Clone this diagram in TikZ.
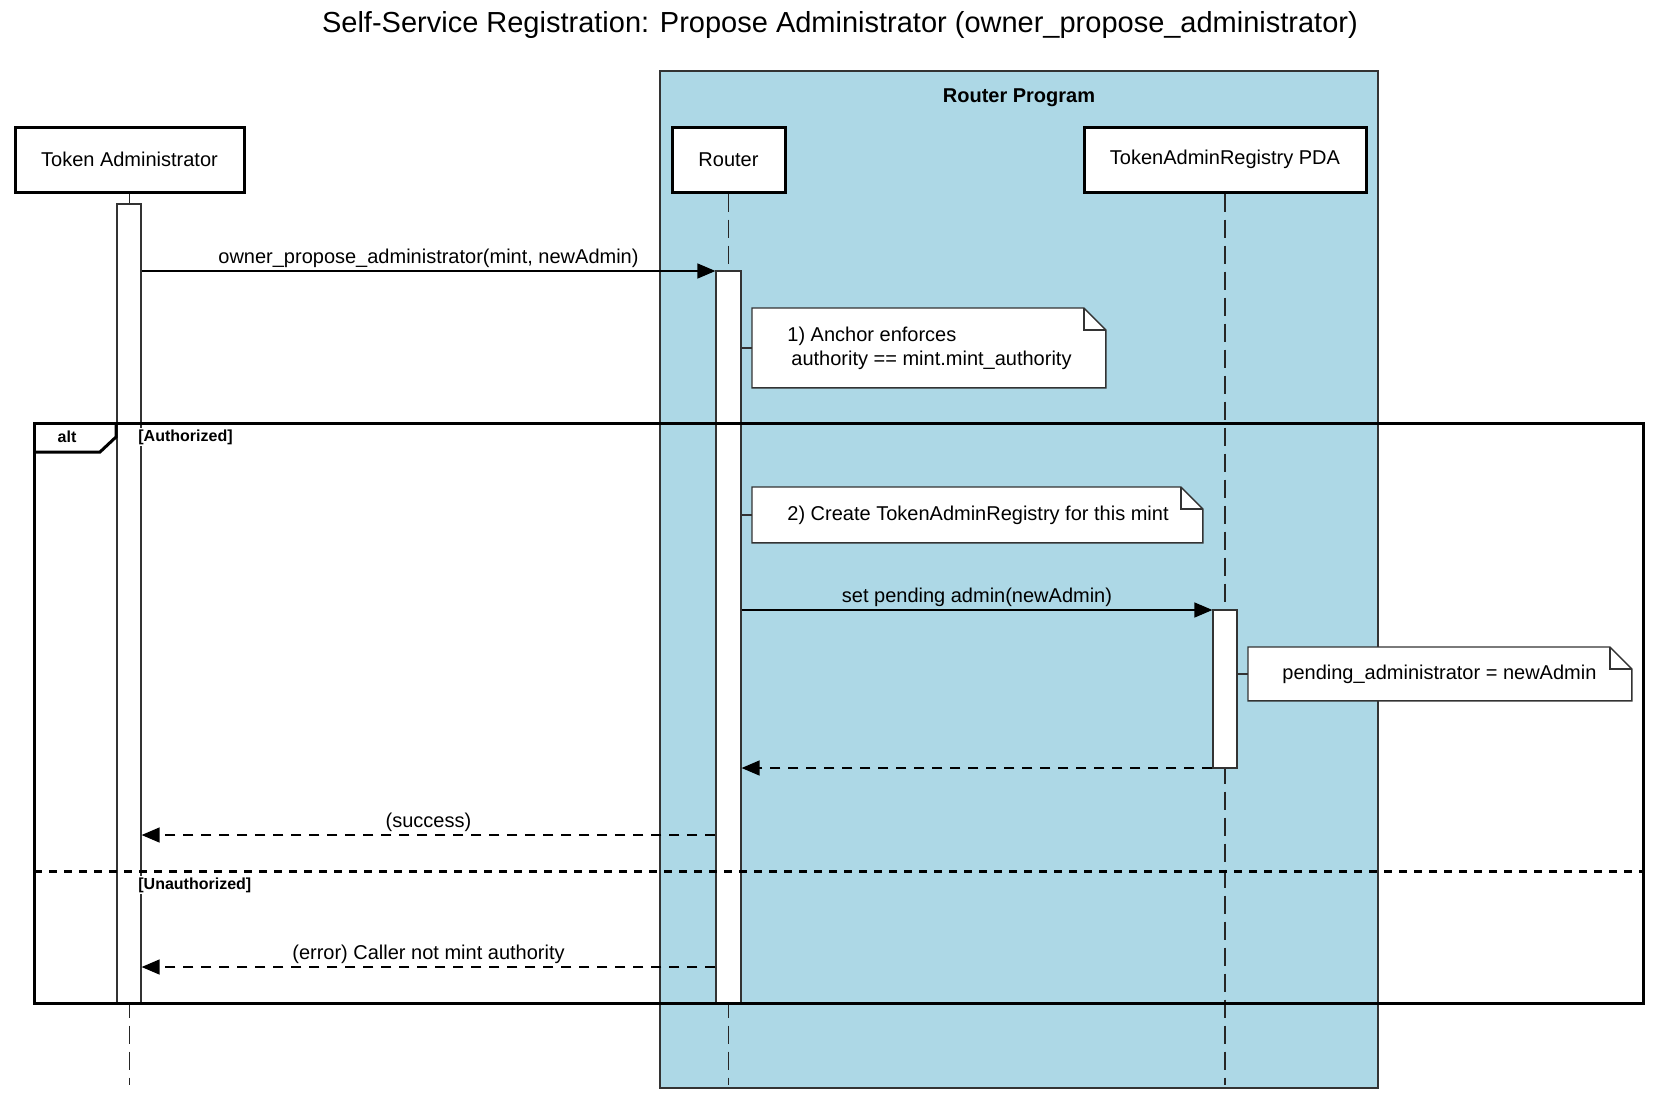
\documentclass[tikz,border=0pt]{standalone}
\usepackage{fontspec}
\setmainfont{Liberation Sans}
\usepackage{tikz}
\usetikzlibrary{arrows.meta,positioning,fit,backgrounds}
\usepackage{xcolor}
\definecolor{routerblue}{RGB}{173,216,230}

\begin{document}
\begin{tikzpicture}[
    x=0.5pt, y=-0.5pt,
    font=\fontsize{10pt}{12pt}\selectfont,
    >={Triangle[length=9pt,width=7.5pt]},
    % Define styles for the sequence diagram
    actor/.style={rectangle, draw=black, line width=1.5pt, fill=white, minimum height=32.5pt, inner sep=0pt},
    lifeline/.style={draw=black!85, line width=0.75pt, dash pattern=on 9pt off 4pt},
    activation/.style={rectangle, draw=black!80, line width=0.6pt, fill=white, inner sep=0pt},
    msg/.style={->, line width=0.7pt, draw=black},
    reply/.style={->, line width=0.7pt, draw=black, dash pattern=on 5pt off 4pt},
    msglabel/.style={above=1pt, inner sep=0.5pt},
    note/.style={rectangle, anchor=north west, inner sep=0pt},
    notetext/.style={align=left, inner sep=0pt},
    notebox/.style={draw=black!80, line width=0.7pt, fill=white},
    frame/.style={draw=black, line width=1.5pt},
    guard/.style={anchor=west, fill=white, inner sep=1pt, font=\fontsize{8pt}{9pt}\selectfont\bfseries},
    panel/.style={draw=black!80, line width=1pt, fill=routerblue}
]
\useasboundingbox (0,0) rectangle (1656,1104);

% ==========================================
% Title and Router Program panel
% ==========================================
\node[font=\fontsize{14.5pt}{17pt}\selectfont] (title) at (840,25) {Self-Service Registration: Propose Administrator (owner\_propose\_administrator)};

\begin{scope}[on background layer]
    \draw[panel] (660,71) rectangle (1378,1088);
\end{scope}
\node[font=\bfseries] (program) at (1019,98) {Router Program};

% ==========================================
% Participants and lifelines
% ==========================================
\node[actor, minimum width=114.5pt] (ta) at (129.5,159.5) {Token Administrator};
\node[actor, minimum width=56.5pt] (router) at (728.5,159.5) {Router};
\node[actor, minimum width=141pt] (tar) at (1225,159.5) {TokenAdminRegistry PDA};

\coordinate (bottom) at (0,1085);
\draw[lifeline] (ta.south) -- (ta.south |- bottom);
\draw[lifeline] (router.south) -- (router.south |- bottom);
\draw[lifeline] (tar.south) -- (tar.south |- bottom);

% Activation bars
\node[activation, fit={(117,204) (141,1003)}] (tabar) {};
\node[activation, fit={(716,271) (741,1003)}] (routerbar) {};
\node[activation, fit={(1213,610) (1237,768)}] (tarbar) {};

% ==========================================
% Messages
% ==========================================
\coordinate (m1) at (0,271);
\coordinate (m2) at (0,610);
\coordinate (m3) at (0,768);
\coordinate (m4) at (0,835);
\coordinate (m5) at (0,967);

\draw[msg] (tabar.east |- m1) -- node[msglabel] {owner\_propose\_administrator(mint, newAdmin)} (routerbar.west |- m1);
\draw[msg] (routerbar.east |- m2) -- node[msglabel] {set pending admin(newAdmin)} (tarbar.west |- m2);
\draw[reply] (tarbar.west |- m3) -- (routerbar.east |- m3);
\draw[reply] (routerbar.west |- m4) -- node[msglabel] {(success)} (tabar.east |- m4);
\draw[reply] (routerbar.west |- m5) -- node[msglabel] {(error) Caller not mint authority} (tabar.east |- m5);

% ==========================================
% Notes
% ==========================================
\node[note, minimum width=176.5pt, minimum height=39.5pt] (note1) at (752,308) {};
\node[note, minimum width=225pt, minimum height=27.5pt] (note2) at (752,487) {};
\node[note, minimum width=191.5pt, minimum height=26.5pt] (note3) at (1248,647) {};

\begin{scope}[on background layer]
    \foreach \n in {note1,note2,note3} {
        \draw[notebox] (\n.south west) -- (\n.north west) -- ([xshift=-11pt]\n.north east)
            -- ([yshift=-11pt]\n.north east) -- (\n.south east) -- cycle;
        \draw[draw=black!80, line width=0.7pt] ([xshift=-11pt]\n.north east)
            -- ([xshift=-11pt,yshift=-11pt]\n.north east) -- ([yshift=-11pt]\n.north east);
    }
\end{scope}

\node[notetext, anchor=west, right=17.5pt of note1.west] (text1) {1) Anchor enforces\\\hspace{2pt}authority == mint.mint\_authority};
\node[notetext, anchor=west, right=17.5pt of note2.west] (text2) {2) Create TokenAdminRegistry for this mint};
\node[notetext, anchor=west, right=17pt of note3.west] (text3) {pending\_administrator = newAdmin};

\draw[draw=black!80, line width=0.7pt] (routerbar.east |- note1.west) -- (note1.west);
\draw[draw=black!80, line width=0.7pt] (routerbar.east |- note2.west) -- (note2.west);
\draw[draw=black!80, line width=0.7pt] (tarbar.east |- note3.west) -- (note3.west);

% ==========================================
% alt fragment
% ==========================================
\draw[frame] (34,423) rectangle (1643,1003);
\draw[frame] (34,452) -- (100,452) -- (116,437) -- (116,423);
\node[font=\fontsize{8pt}{9pt}\selectfont\bfseries] (alt) at (67,437) {alt};
\draw[frame, dash pattern=on 4pt off 3.5pt] (34,871) -- (1643,871);

\node[guard] (authorized) at (136,437) {[Authorized]};
\node[guard] (unauthorized) at (136,885) {[Unauthorized]};

\end{tikzpicture}
\end{document}
